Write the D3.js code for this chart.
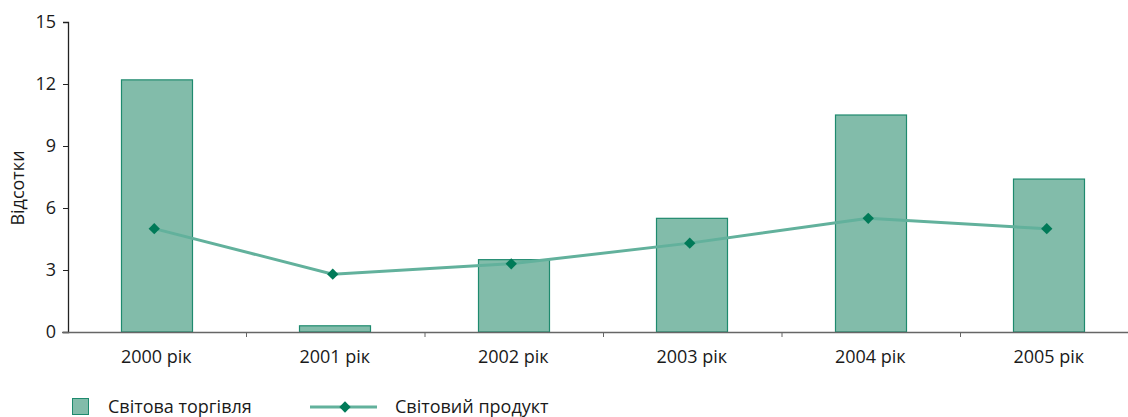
<!DOCTYPE html>
<html><head><meta charset="utf-8">
<script src="https://cdn.jsdelivr.net/npm/d3@7"></script>
<style>body{margin:0;background:#fff}svg{display:block}text{font-family:"Open Sans","Noto Sans",sans-serif;fill:#1a1a1a}</style>
</head><body><svg id="c" width="1128" height="417"></svg>
<script>
const categories = ["2000 рік","2001 рік","2002 рік","2003 рік","2004 рік","2005 рік"];
const tradeValues = [12.2, 0.3, 3.5, 5.5, 10.5, 7.4];
const productValues = [5.0, 2.8, 3.3, 4.3, 5.5, 5.0];
const yTicks = [0,3,6,9,12,15];
const seriesNames = ["Світова торгівля","Світовий продукт"];
const yTitle = "Відсотки";

const svg = d3.select("#c");
const L = 67, R = 1138, T = 22, B = 332, AX_END = 1128;
const x = d3.scaleBand().domain(categories).range([L, R]).paddingInner(0.6).paddingOuter(0.3);
const xc = d3.scalePoint().domain(categories).range([L, R]).padding(0.5);
const y = d3.scaleLinear().domain([0,15]).range([B, T]);
const FS = "18px";

// bars
svg.selectAll("rect.bar").data(tradeValues).join("rect")
  .attr("x",(d,i)=>Math.round(x(categories[i]))+0.5).attr("width",Math.round(x.bandwidth()))
  .attr("y",d=>y(d)).attr("height",d=>B-y(d))
  .attr("fill","#82bcaa").attr("stroke","#1e8a6e").attr("stroke-width",1.2);

// y axis
const ya = svg.append("g").attr("transform",`translate(${L+1},0)`)
  .call(d3.axisLeft(y).tickValues(yTicks).tickSize(5).tickPadding(7));
ya.select(".domain").attr("stroke","#222").attr("stroke-width",1.3);
ya.selectAll(".tick line").attr("stroke","#222");
ya.selectAll("text").style("font-size",FS).attr("fill","#1a1a1a");

// x axis
const step = (R-L)/categories.length;
const boundaries = categories.slice(1).map((c,i)=>xc(c)-step/2+1);
const xg = svg.append("g");
xg.append("line").attr("x1",L-5).attr("x2",AX_END).attr("y1",B+0.5).attr("y2",B+0.5).attr("stroke","#666").attr("stroke-width",1.5);
xg.selectAll("line.t").data(boundaries).join("line").attr("class","t")
  .attr("x1",d=>d).attr("x2",d=>d).attr("y1",B).attr("y2",B+5).attr("stroke","#666").attr("stroke-width",1);
xg.selectAll("text").data(categories).join("text")
  .attr("x",d=>xc(d)).attr("y",B+31).attr("text-anchor","middle").style("font-size",FS).text(d=>d);

// line
const off = -2;
const line = d3.line().x((d,i)=>xc(categories[i])+off).y(d=>y(d));
svg.append("path").datum(productValues).attr("d",line).attr("fill","none")
  .attr("stroke","#62b19c").attr("stroke-width",3);
svg.selectAll("path.m").data(productValues).join("path").attr("class","m")
  .attr("transform",(d,i)=>`translate(${xc(categories[i])+off},${y(d)}) rotate(45)`)
  .attr("d",d3.symbol().type(d3.symbolSquare).size(64)).attr("fill","#007a58");

// y title
svg.append("text").attr("transform","translate(24,188) rotate(-90)").attr("text-anchor","middle")
  .style("font-size",FS).text(yTitle);

// legend
const lg = svg.append("g");
lg.append("rect").attr("x",72.5).attr("y",398.5).attr("width",16).attr("height",16)
  .attr("fill","#82bcaa").attr("stroke","#1e8a6e");
lg.append("text").attr("x",108).attr("y",413).style("font-size",FS).text(seriesNames[0]);
lg.append("line").attr("x1",310).attr("x2",377).attr("y1",407).attr("y2",407).attr("stroke","#62b19c").attr("stroke-width",3);
lg.append("path").attr("transform","translate(345,407) rotate(45)").attr("d",d3.symbol().type(d3.symbolSquare).size(64)).attr("fill","#007a58");
lg.append("text").attr("x",395).attr("y",413).style("font-size",FS).text(seriesNames[1]);
</script></body></html>
